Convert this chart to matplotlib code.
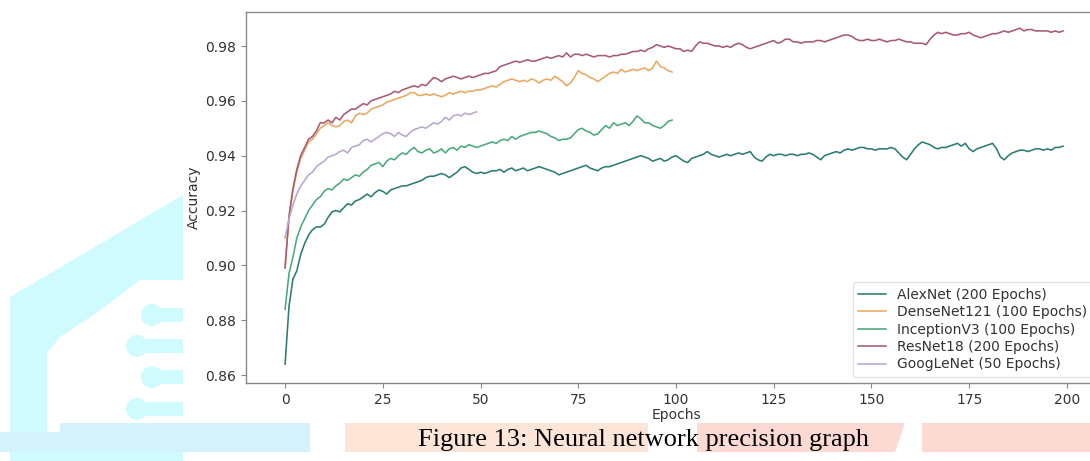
import matplotlib
matplotlib.use("Agg")
import matplotlib.pyplot as plt
from matplotlib.patches import Polygon, Ellipse
import numpy as np

# ---------------- data ----------------
alexnet = [
    0.864, 0.885, 0.895, 0.898, 0.904, 0.908, 0.911, 0.913, 0.914, 0.914,
    0.915, 0.9175, 0.9195, 0.920, 0.9195, 0.921, 0.9225, 0.922, 0.9235, 0.924,
    0.925, 0.926, 0.925, 0.9265, 0.9275, 0.927, 0.926, 0.9275, 0.928, 0.9285,
    0.929, 0.929, 0.9295, 0.930, 0.9305, 0.931, 0.932, 0.9325, 0.9325, 0.933,
    0.9335, 0.933, 0.932, 0.933, 0.934, 0.9355, 0.936, 0.935, 0.934, 0.9335,
    0.934, 0.9335, 0.934, 0.9345, 0.9345, 0.935, 0.934, 0.935, 0.9355, 0.9345,
    0.935, 0.9355, 0.9345, 0.935, 0.9355, 0.936, 0.9355, 0.935, 0.9345, 0.934,
    0.933, 0.9335, 0.934, 0.9345, 0.935, 0.9355, 0.936, 0.9365, 0.9355, 0.935,
    0.9345, 0.9355, 0.936, 0.936, 0.9365, 0.937, 0.9375, 0.938, 0.9385, 0.939,
    0.9395, 0.940, 0.9395, 0.939, 0.938, 0.9385, 0.939, 0.938, 0.9385, 0.9395,
    0.940, 0.939, 0.938, 0.9375, 0.939, 0.9395, 0.940, 0.9405, 0.9415, 0.9405,
    0.940, 0.9395, 0.940, 0.9405, 0.940, 0.9405, 0.941, 0.9405, 0.941, 0.9415,
    0.9395, 0.9385, 0.938, 0.9395, 0.9405, 0.940, 0.9405, 0.9405, 0.940, 0.9405,
    0.9405, 0.940, 0.9405, 0.9405, 0.941, 0.9405, 0.9395, 0.9385, 0.940, 0.9405,
    0.941, 0.9415, 0.941, 0.942, 0.9425, 0.942, 0.9425, 0.943, 0.943, 0.9425,
    0.9425, 0.942, 0.9425, 0.9425, 0.9425, 0.943, 0.9425, 0.941, 0.9395, 0.9385,
    0.9405, 0.9425, 0.944, 0.945, 0.9445, 0.944, 0.943, 0.9425, 0.943, 0.943,
    0.9435, 0.944, 0.9445, 0.9435, 0.9445, 0.9425, 0.9415, 0.9425, 0.943, 0.9435,
    0.944, 0.9445, 0.9425, 0.9395, 0.9385, 0.940, 0.941, 0.9415, 0.942, 0.942,
    0.9415, 0.942, 0.9425, 0.9425, 0.942, 0.9425, 0.942, 0.943, 0.943, 0.9435,
]

densenet121 = [
    0.900, 0.917, 0.927, 0.934, 0.939, 0.942, 0.945, 0.946, 0.948, 0.950,
    0.951, 0.952, 0.951, 0.9505, 0.951, 0.9525, 0.953, 0.952, 0.9545, 0.9555,
    0.955, 0.9555, 0.957, 0.9575, 0.958, 0.9585, 0.9595, 0.960, 0.9605, 0.961,
    0.9615, 0.962, 0.963, 0.963, 0.962, 0.962, 0.9625, 0.962, 0.9625, 0.962,
    0.9615, 0.962, 0.963, 0.9625, 0.963, 0.9635, 0.963, 0.9635, 0.9635, 0.964,
    0.964, 0.9645, 0.965, 0.9655, 0.965, 0.966, 0.967, 0.9675, 0.968, 0.9675,
    0.967, 0.9675, 0.967, 0.968, 0.9675, 0.9665, 0.9675, 0.968, 0.9675, 0.969,
    0.968, 0.967, 0.9655, 0.9665, 0.9685, 0.971, 0.970, 0.9695, 0.9685, 0.968,
    0.967, 0.968, 0.969, 0.970, 0.9705, 0.970, 0.9715, 0.9705, 0.971, 0.9715,
    0.971, 0.9715, 0.972, 0.971, 0.972, 0.9745, 0.9725, 0.972, 0.971, 0.9705,
]

inceptionv3 = [
    0.884, 0.897, 0.903, 0.910, 0.914, 0.917, 0.920, 0.922, 0.924, 0.925,
    0.927, 0.928, 0.9275, 0.929, 0.930, 0.9315, 0.931, 0.932, 0.933, 0.9325,
    0.934, 0.935, 0.9365, 0.937, 0.9375, 0.936, 0.938, 0.939, 0.9385, 0.940,
    0.941, 0.9405, 0.942, 0.943, 0.9415, 0.941, 0.942, 0.9425, 0.941, 0.9415,
    0.9425, 0.941, 0.9425, 0.943, 0.942, 0.9435, 0.943, 0.944, 0.9435, 0.943,
    0.9435, 0.944, 0.9445, 0.945, 0.9445, 0.9455, 0.946, 0.9455, 0.947, 0.946,
    0.947, 0.9475, 0.948, 0.9485, 0.9485, 0.949, 0.9485, 0.948, 0.947, 0.9465,
    0.9455, 0.946, 0.946, 0.9465, 0.948, 0.9495, 0.950, 0.949, 0.9485, 0.9475,
    0.948, 0.9495, 0.951, 0.950, 0.952, 0.951, 0.9515, 0.952, 0.951, 0.9525,
    0.9545, 0.9535, 0.952, 0.952, 0.951, 0.9505, 0.950, 0.951, 0.9525, 0.953,
]

resnet18 = [
    0.899, 0.918, 0.928, 0.935, 0.940, 0.943, 0.946, 0.947, 0.949, 0.952,
    0.952, 0.953, 0.952, 0.954, 0.953, 0.955, 0.956, 0.957, 0.957, 0.958,
    0.959, 0.9585, 0.960, 0.9605, 0.961, 0.9615, 0.962, 0.9625, 0.9635, 0.963,
    0.964, 0.9645, 0.965, 0.9655, 0.965, 0.966, 0.9655, 0.967, 0.9685, 0.968,
    0.967, 0.968, 0.9685, 0.969, 0.9685, 0.968, 0.9685, 0.969, 0.9685, 0.969,
    0.9695, 0.970, 0.970, 0.9705, 0.971, 0.9725, 0.973, 0.9735, 0.974, 0.9745,
    0.974, 0.9745, 0.975, 0.9745, 0.9745, 0.975, 0.9755, 0.976, 0.9755, 0.976,
    0.9765, 0.976, 0.9775, 0.976, 0.977, 0.977, 0.9765, 0.977, 0.9765, 0.976,
    0.9765, 0.9765, 0.9765, 0.976, 0.9765, 0.9765, 0.977, 0.977, 0.9775, 0.978,
    0.978, 0.9785, 0.978, 0.979, 0.9795, 0.9805, 0.980, 0.9795, 0.980, 0.9795,
    0.979, 0.979, 0.978, 0.9785, 0.978, 0.980, 0.9815, 0.981, 0.981, 0.9805,
    0.980, 0.980, 0.9795, 0.980, 0.9795, 0.9805, 0.981, 0.9805, 0.9795, 0.979,
    0.9795, 0.980, 0.9805, 0.981, 0.9815, 0.982, 0.981, 0.9815, 0.9825, 0.9825,
    0.9815, 0.9815, 0.981, 0.9815, 0.9815, 0.9815, 0.982, 0.982, 0.9815, 0.982,
    0.9825, 0.983, 0.9835, 0.984, 0.984, 0.9835, 0.9825, 0.982, 0.982, 0.9825,
    0.982, 0.982, 0.9825, 0.982, 0.9815, 0.982, 0.982, 0.9825, 0.982, 0.9815,
    0.9815, 0.981, 0.981, 0.981, 0.9805, 0.9825, 0.984, 0.985, 0.9845, 0.985,
    0.9845, 0.984, 0.984, 0.9845, 0.9845, 0.985, 0.984, 0.9835, 0.983, 0.9835,
    0.984, 0.9845, 0.9845, 0.985, 0.9855, 0.985, 0.9855, 0.986, 0.9865, 0.9855,
    0.986, 0.986, 0.9855, 0.9855, 0.9855, 0.9855, 0.985, 0.9855, 0.985, 0.9855,
]

googlenet = [
    0.910, 0.917, 0.922, 0.926, 0.929, 0.931, 0.933, 0.934, 0.936, 0.937,
    0.938, 0.9395, 0.940, 0.9405, 0.9415, 0.942, 0.941, 0.943, 0.9435, 0.944,
    0.9455, 0.946, 0.945, 0.946, 0.947, 0.948, 0.9485, 0.948, 0.947, 0.9485,
    0.9475, 0.947, 0.9485, 0.9495, 0.950, 0.9505, 0.950, 0.951, 0.952, 0.9515,
    0.9525, 0.954, 0.953, 0.9545, 0.955, 0.9545, 0.9555, 0.955, 0.9555, 0.956,
]

series_labels = [
    "AlexNet (200 Epochs)",
    "DenseNet121 (100 Epochs)",
    "InceptionV3 (100 Epochs)",
    "ResNet18 (200 Epochs)",
    "GoogLeNet (50 Epochs)",
]
series_values = [alexnet, densenet121, inceptionv3, resnet18, googlenet]
series_colors = ["#2a7d72", "#e8a860", "#4aa97c", "#a85a70", "#b8a6cf"]

x_ticks = [0, 25, 50, 75, 100, 125, 150, 175, 200]
y_ticks = [0.86, 0.88, 0.90, 0.92, 0.94, 0.96, 0.98]
caption = "Figure 13: Neural network precision graph"

# ---------------- figure ----------------
W, H = 1090, 461
fig = plt.figure(figsize=(W / 100, H / 100), dpi=100)
fig.patch.set_facecolor("white")


def P(x, y):
    return (x / W, 1 - y / H)


def poly(pts, color, z):
    fig.add_artist(Polygon([P(x, y) for x, y in pts], closed=True,
                           transform=fig.transFigure, facecolor=color,
                           edgecolor="none", zorder=z))


# page watermark decoration
cyan = "#cffbff"
poly([(10, 461), (10, 297), (183, 195), (183, 461)], cyan, -3)
poly([(47, 433), (47, 353), (60, 337), (95, 314), (140, 280), (183, 280), (183, 433)], "white", -2.9)
for cx, cy in [(152, 315), (137, 346), (152, 377), (137, 409)]:
    fig.add_artist(Ellipse(P(cx, cy), 22 / W, 22 / H, transform=fig.transFigure,
                           facecolor=cyan, edgecolor="none", zorder=-2.8))
    poly([(cx, cy - 7), (183, cy - 7), (183, cy + 7), (cx, cy + 7)], cyan, -2.8)
poly([(0, 432), (60, 432), (60, 423), (310, 423), (310, 452), (0, 452)], "#d4f2fb", -2.7)
poly([(345, 423), (648, 423), (648, 452), (345, 452)], "#fde6d8", -2.7)
poly([(697, 423), (905, 423), (895, 452), (697, 452)], "#fcd9d2", -2.7)
poly([(922, 423), (1090, 423), (1090, 452), (922, 452)], "#fcd9d2", -2.7)
# chart image background
poly([(183, 0), (1090, 0), (1090, 420), (183, 420)], "white", -2)

fig.text(643 / W, 1 - 446 / H, caption, family="Liberation Serif",
         fontsize=19, ha="center", va="baseline", color="black")

# ---------------- axes ----------------
ax = fig.add_axes([246 / W, 78 / H, 860 / W, 371 / H])
ax.set_facecolor("white")
for vals, lab, col in zip(series_values, series_labels, series_colors):
    ax.plot(np.arange(len(vals)), vals, color=col, lw=1.15, label=lab)

ax.set_xlim(-10, 210)
ax.set_ylim(0.8571, 0.9924)
ax.set_xticks(x_ticks)
ax.set_yticks(y_ticks)
ax.set_yticklabels([f"{v:.2f}" for v in y_ticks])
ax.tick_params(labelsize=10, colors="#888888", labelcolor="#333333", length=3.5)
for s in ax.spines.values():
    s.set_color("#888888")
    s.set_linewidth(1.0)
ax.set_xlabel("Epochs", fontsize=10, color="#333333", labelpad=1)
ax.set_ylabel("Accuracy", fontsize=10, color="#333333", labelpad=3)

leg = ax.legend(loc="lower right", fontsize=10, labelspacing=0.25,
                frameon=True, fancybox=True, borderaxespad=0,
                bbox_to_anchor=(1093 / W, 1 - 377 / H),
                bbox_transform=fig.transFigure)
leg.get_frame().set_edgecolor("#dddddd")
for t in leg.get_texts():
    t.set_color("#333333")

fig.savefig("out.png", dpi=100)
